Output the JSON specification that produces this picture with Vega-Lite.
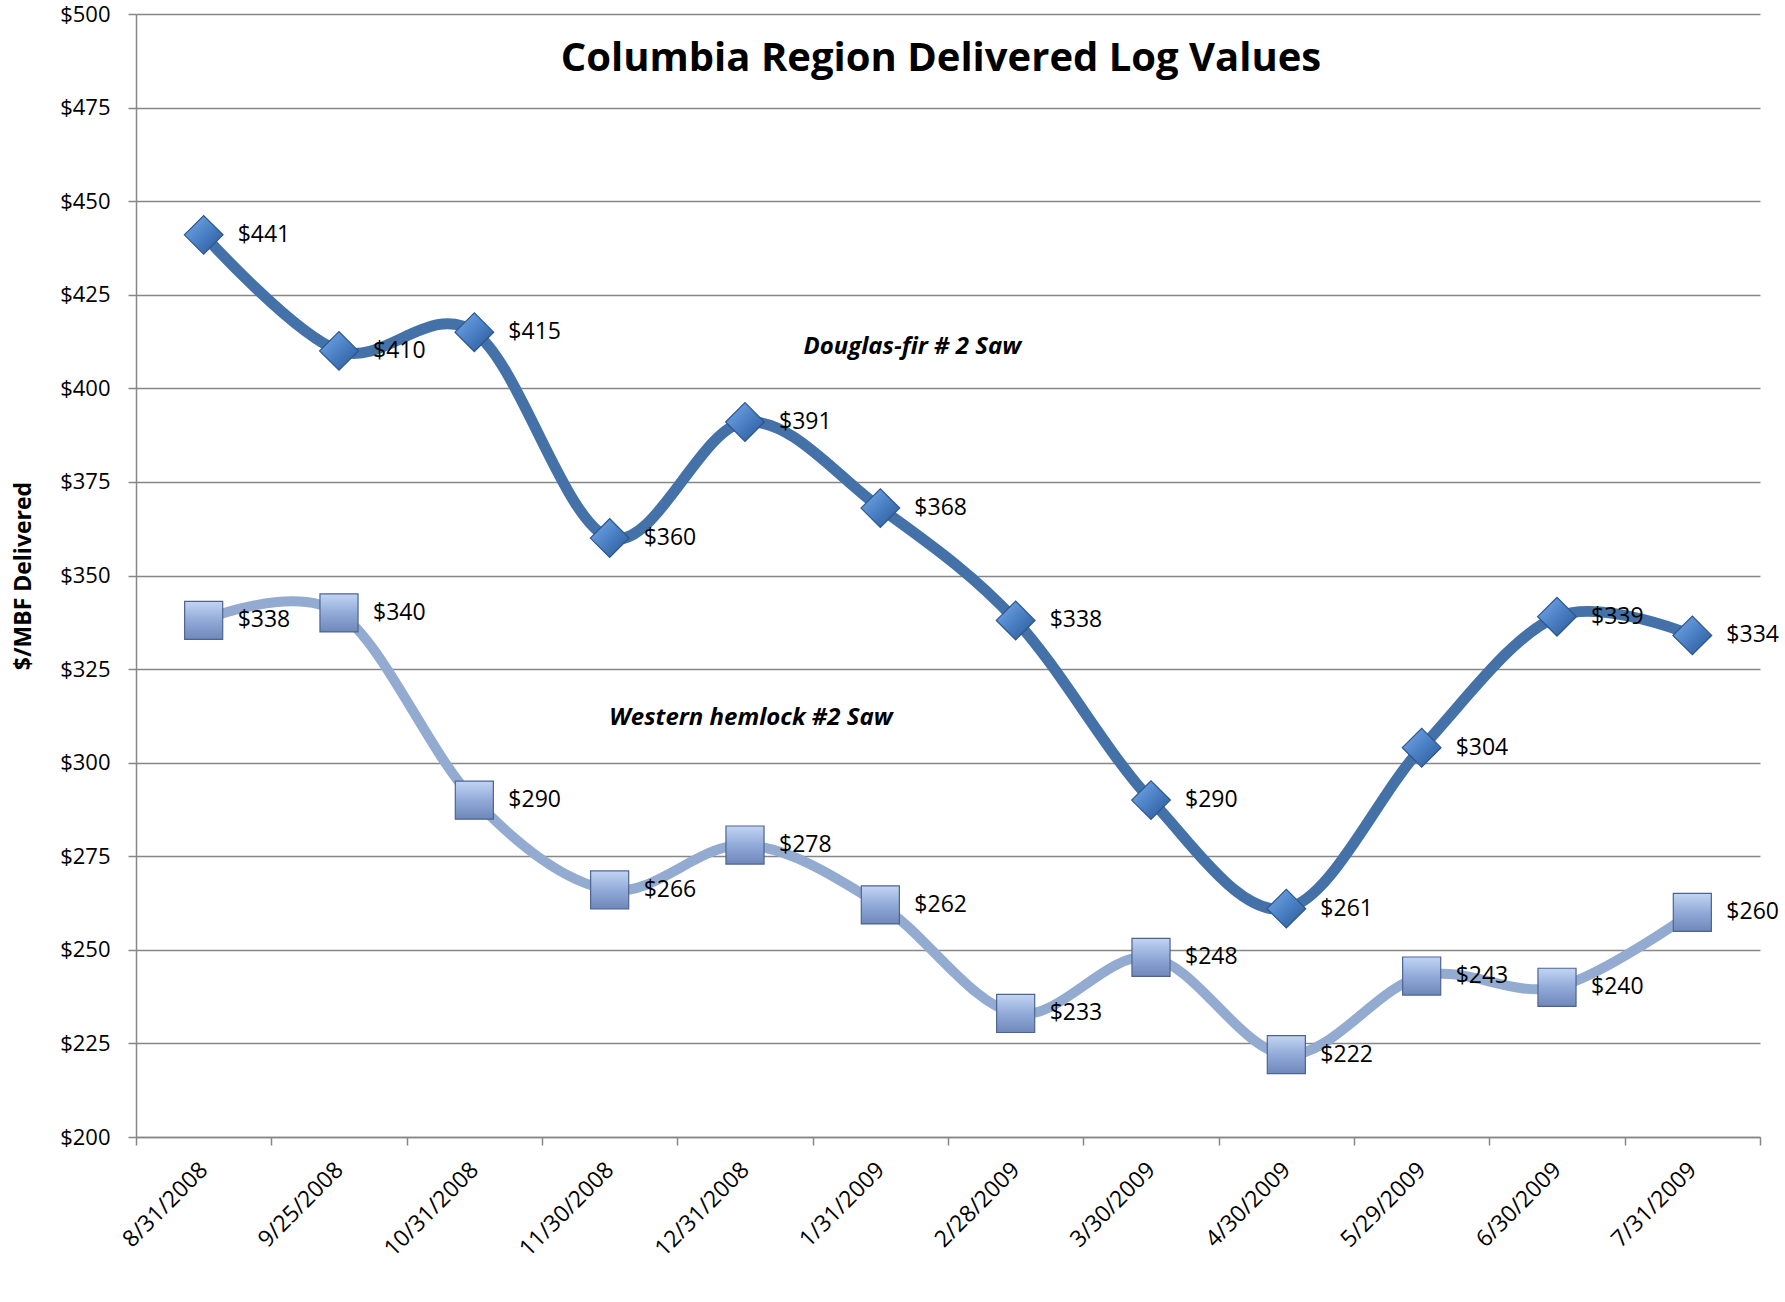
{
  "$schema": "https://vega.github.io/schema/vega-lite/v6.json",
  "width": 1624,
  "height": 1123,
  "autosize": {"type": "none"},
  "padding": {"left": 136, "top": 14, "right": 25, "bottom": 165},
  "background": "white",
  "config": {"view": {"stroke": null}, "font": "Open Sans"},
  "title": {
    "text": "Columbia Region Delivered Log Values",
    "fontSize": 40,
    "font": "Open Sans",
    "fontWeight": "bold",
    "color": "#000000",
    "anchor": "middle",
    "frame": "group",
    "baseline": "alphabetic",
    "offset": -60,
    "dy": 48,
    "dx": -7
  },
  "datasets": {
    "prices": [
      {"date": "8/31/2008", "series": "Douglas-fir", "value": 441},
      {"date": "9/25/2008", "series": "Douglas-fir", "value": 410},
      {"date": "10/31/2008", "series": "Douglas-fir", "value": 415},
      {"date": "11/30/2008", "series": "Douglas-fir", "value": 360},
      {"date": "12/31/2008", "series": "Douglas-fir", "value": 391},
      {"date": "1/31/2009", "series": "Douglas-fir", "value": 368},
      {"date": "2/28/2009", "series": "Douglas-fir", "value": 338},
      {"date": "3/30/2009", "series": "Douglas-fir", "value": 290},
      {"date": "4/30/2009", "series": "Douglas-fir", "value": 261},
      {"date": "5/29/2009", "series": "Douglas-fir", "value": 304},
      {"date": "6/30/2009", "series": "Douglas-fir", "value": 339},
      {"date": "7/31/2009", "series": "Douglas-fir", "value": 334},
      {"date": "8/31/2008", "series": "Western hemlock", "value": 338},
      {"date": "9/25/2008", "series": "Western hemlock", "value": 340},
      {"date": "10/31/2008", "series": "Western hemlock", "value": 290},
      {"date": "11/30/2008", "series": "Western hemlock", "value": 266},
      {"date": "12/31/2008", "series": "Western hemlock", "value": 278},
      {"date": "1/31/2009", "series": "Western hemlock", "value": 262},
      {"date": "2/28/2009", "series": "Western hemlock", "value": 233},
      {"date": "3/30/2009", "series": "Western hemlock", "value": 248},
      {"date": "4/30/2009", "series": "Western hemlock", "value": 222},
      {"date": "5/29/2009", "series": "Western hemlock", "value": 243},
      {"date": "6/30/2009", "series": "Western hemlock", "value": 240},
      {"date": "7/31/2009", "series": "Western hemlock", "value": 260}
    ],
    "noteDF": [{"date": "1/31/2009", "value": 411, "text": "Douglas-fir # 2 Saw"}],
    "noteWH": [{"date": "12/31/2008", "value": 312, "text": "Western hemlock #2 Saw"}]
  },
  "encoding": {
    "x": {
      "field": "date",
      "type": "ordinal",
      "bandPosition": 0.5,
      "scale": {
        "type": "band",
        "paddingInner": 0,
        "paddingOuter": 0,
        "domain": ["8/31/2008", "9/25/2008", "10/31/2008", "11/30/2008", "12/31/2008", "1/31/2009", "2/28/2009", "3/30/2009", "4/30/2009", "5/29/2009", "6/30/2009", "7/31/2009"]
      },
      "axis": {
        "title": null,
        "labelAngle": -45,
        "labelAlign": "right",
        "labelBaseline": "middle",
        "labelFont": "Open Sans",
        "labelFontSize": 23,
        "labelColor": "#000000",
        "labelPadding": 21,
        "labelOffset": 0,
        "tickBand": "extent",
        "ticks": true,
        "tickSize": 8,
        "tickColor": "#868686",
        "tickWidth": 1.5,
        "domainColor": "#868686",
        "domainWidth": 1.5,
        "grid": false
      }
    },
    "y": {
      "field": "value",
      "type": "quantitative",
      "scale": {"domain": [200, 500], "nice": false, "zero": false},
      "axis": {
        "title": "$/MBF Delivered",
        "titleFont": "Open Sans",
        "titleFontSize": 23,
        "titleFontWeight": "bold",
        "titleColor": "#000000",
        "titlePadding": 24,
        "values": [200, 225, 250, 275, 300, 325, 350, 375, 400, 425, 450, 475, 500],
        "format": "$.0f",
        "labelFont": "Open Sans",
        "labelFontSize": 22,
        "labelColor": "#000000",
        "labelPadding": 18,
        "tickSize": 8,
        "tickColor": "#868686",
        "tickWidth": 1.5,
        "domainColor": "#868686",
        "domainWidth": 1.5,
        "grid": true,
        "gridColor": "#868686",
        "gridWidth": 1.5
      }
    }
  },
  "layer": [
    {
      "data": {"name": "prices"},
      "transform": [{"filter": "datum.series === 'Western hemlock'"}],
      "mark": {"type": "line", "interpolate": "cardinal", "tension": 0, "color": "#93abd1", "strokeWidth": 10}
    },
    {
      "data": {"name": "prices"},
      "transform": [{"filter": "datum.series === 'Douglas-fir'"}],
      "mark": {"type": "line", "interpolate": "cardinal", "tension": 0, "color": "#4371a8", "strokeWidth": 11}
    },
    {
      "data": {"name": "prices"},
      "transform": [{"filter": "datum.series === 'Western hemlock'"}],
      "mark": {
        "type": "point",
        "shape": "square",
        "size": 1450,
        "filled": true,
        "opacity": 1,
        "fill": {"gradient": "linear", "x1": 0, "y1": 0, "x2": 0, "y2": 1, "stops": [{"offset": 0, "color": "#c3d5f3"}, {"offset": 0.5, "color": "#91aad8"}, {"offset": 1, "color": "#6f88ba"}]},
        "stroke": "#4d6491",
        "strokeWidth": 1.2
      }
    },
    {
      "data": {"name": "prices"},
      "transform": [{"filter": "datum.series === 'Douglas-fir'"}],
      "mark": {
        "type": "point",
        "shape": "diamond",
        "size": 1500,
        "filled": true,
        "opacity": 1,
        "fill": {"gradient": "linear", "x1": 0, "y1": 0, "x2": 1, "y2": 1, "stops": [{"offset": 0, "color": "#7aaceb"}, {"offset": 0.5, "color": "#4a80c4"}, {"offset": 1, "color": "#2a5694"}]},
        "stroke": "#2b568f",
        "strokeWidth": 1.2
      }
    },
    {
      "data": {"name": "prices"},
      "mark": {"type": "text", "align": "left", "baseline": "middle", "dx": 34, "font": "Open Sans", "fontSize": 23, "color": "#000000"},
      "encoding": {"text": {"field": "value", "type": "quantitative", "format": "$.0f"}}
    },
    {
      "data": {"name": "noteDF"},
      "mark": {"type": "text", "align": "center", "baseline": "middle", "dx": 32, "font": "Open Sans", "fontSize": 24, "fontWeight": "bold", "fontStyle": "italic", "color": "#000000"},
      "encoding": {"text": {"field": "text", "type": "nominal"}}
    },
    {
      "data": {"name": "noteWH"},
      "mark": {"type": "text", "align": "center", "baseline": "middle", "dx": 6, "font": "Open Sans", "fontSize": 24, "fontWeight": "bold", "fontStyle": "italic", "color": "#000000"},
      "encoding": {"text": {"field": "text", "type": "nominal"}}
    }
  ]
}
